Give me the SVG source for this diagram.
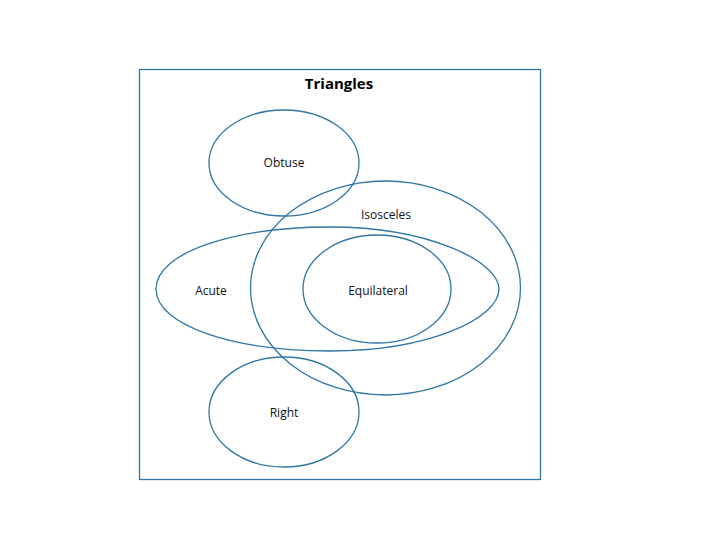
<svg xmlns="http://www.w3.org/2000/svg" width="720" height="540" viewBox="0 0 720 540">
<style>
.s{fill:none;stroke:#2f76a6;stroke-width:1.3}
.t{font-family:"Open Sans","Liberation Sans",sans-serif;font-size:12px;fill:#111;text-anchor:middle}
.h{font-family:"Open Sans","Liberation Sans",sans-serif;font-size:15px;font-weight:bold;fill:#000;text-anchor:middle}
</style>
<rect width="720" height="540" fill="#fff"/>
<g id="triangles">
<rect class="s" x="139.5" y="69.5" width="401" height="410"/>
<text class="h" x="339" y="89">Triangles</text>
</g>
<g id="obtuse">
<ellipse class="s" cx="284" cy="163" rx="75" ry="53"/>
<text class="t" x="284" y="167">Obtuse</text>
</g>
<g id="isosceles">
<ellipse class="s" cx="385.5" cy="288" rx="135" ry="107"/>
<text class="t" x="386" y="219">Isosceles</text>
</g>
<g id="acute">
<path class="s" d="M156,289 C156,252 235,227 330,227 C430,227 499,262 499,289 C499,318 430,351 330,351 C235,351 156,326 156,289 Z"/>
<text class="t" x="211" y="295">Acute</text>
</g>
<g id="equilateral">
<ellipse class="s" cx="377" cy="289" rx="74" ry="54"/>
<text class="t" x="378" y="295">Equilateral</text>
</g>
<g id="right">
<ellipse class="s" cx="284" cy="412" rx="75" ry="55"/>
<text class="t" x="284" y="417">Right</text>
</g>
</svg>
